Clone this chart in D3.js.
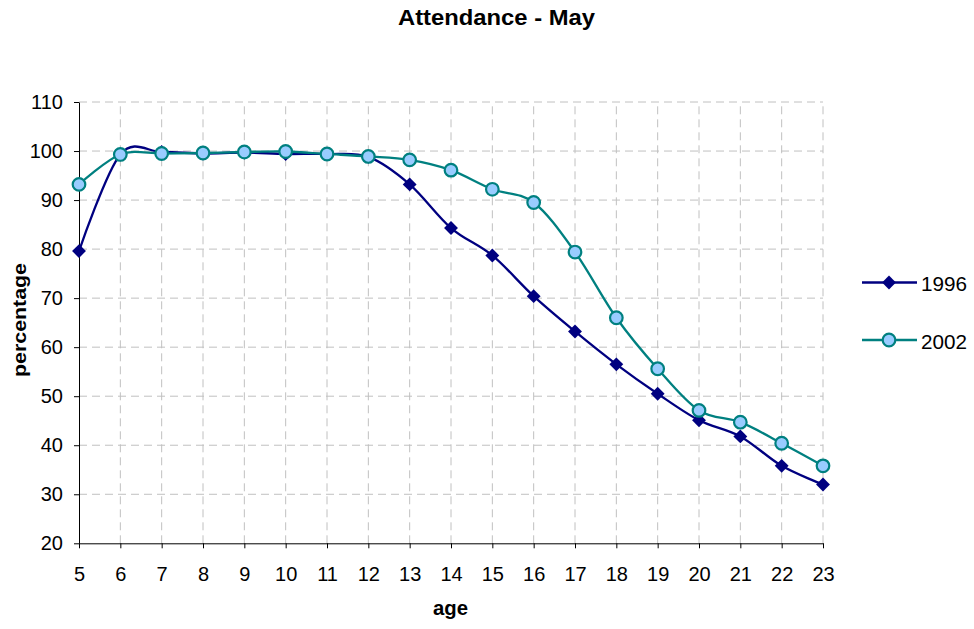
<!DOCTYPE html>
<html><head><meta charset="utf-8">
<script src="https://cdn.jsdelivr.net/npm/d3@7"></script>
<style>body{margin:0;background:#fff}svg{display:block}text{font-family:"Liberation Sans",Arial,sans-serif}</style>
</head><body>
<svg id="c" width="974" height="629"></svg>
<script>
const ages = [5,6,7,8,9,10,11,12,13,14,15,16,17,18,19,20,21,22,23];
const s1996 = [79.6,99.3,99.8,99.5,99.7,99.4,99.4,98.8,93.2,84.3,78.7,70.4,63.2,56.5,50.5,45.1,41.8,35.8,32.0];
const s2002 = [93.2,99.3,99.5,99.6,99.8,99.9,99.4,98.9,98.2,96.1,92.2,89.5,79.4,66.0,55.6,47.1,44.7,40.4,35.8];
const yTicks = [20,30,40,50,60,70,80,90,100,110];
const seriesNames = ["1996","2002"];

const svg = d3.select("#c");
const x = d3.scaleLinear().domain([5,23]).range([79,823]);
const y = d3.scaleLinear().domain([20,110]).range([543.3,102]);
const FONT = "Liberation Sans, Arial, sans-serif";

// grid
const g = svg.append("g");
g.selectAll(".vg").data(ages.slice(1)).enter().append("line")
  .attr("x1",d=>x(d)).attr("x2",d=>x(d)).attr("y1",y(20)).attr("y2",y(110))
  .attr("stroke","#c0c0c0").attr("stroke-width",1).attr("stroke-dasharray","8,5");
g.selectAll(".hg").data(yTicks.slice(1)).enter().append("line")
  .attr("x1",x(5)).attr("x2",x(23)).attr("y1",d=>y(d)).attr("y2",d=>y(d))
  .attr("stroke","#c0c0c0").attr("stroke-width",1).attr("stroke-dasharray","8,5");

// axes
const xAxis = d3.axisBottom(x).tickValues(ages).tickFormat(d3.format("d")).tickSize(5).tickSizeOuter(0).tickPadding(19);
const yAxis = d3.axisLeft(y).tickValues(yTicks).tickSize(5).tickSizeOuter(0).tickPadding(11);
const xa = svg.append("g").attr("transform",`translate(0,${y(20)})`).call(xAxis);
const ya = svg.append("g").attr("transform",`translate(${x(5)},0)`).call(yAxis);
[xa,ya].forEach(a=>{
  a.selectAll("path,line").attr("stroke","#000").attr("stroke-width",1);
  a.selectAll("text").attr("font-size",20).attr("fill","#000").attr("font-family",FONT);
});

// lines
const line = d3.line().x((d,i)=>x(ages[i])).y(d=>y(d)).curve(d3.curveCatmullRom.alpha(0));
svg.append("path").datum(s1996).attr("d",line).attr("fill","none").attr("stroke","#000080").attr("stroke-width",2.3);
svg.append("path").datum(s2002).attr("d",line).attr("fill","none").attr("stroke","#008080").attr("stroke-width",2.3);

const diamondPath = d3.symbol().type(d3.symbolSquare).size(96)();
svg.selectAll(".m1").data(s1996).enter().append("path")
  .attr("d", diamondPath)
  .attr("transform",(d,i)=>`translate(${x(ages[i])},${y(d)}) rotate(45)`)
  .attr("fill","#000080");
svg.selectAll(".m2").data(s2002).enter().append("circle")
  .attr("cx",(d,i)=>x(ages[i])).attr("cy",d=>y(d)).attr("r",6.3)
  .attr("fill","#99ccff").attr("stroke","#008080").attr("stroke-width",2.2);

// legend
const lg = svg.append("g");
const ly = [282.5,340];
lg.selectAll("line").data(seriesNames).enter().append("line")
  .attr("x1",862).attr("x2",917).attr("y1",(d,i)=>ly[i]).attr("y2",(d,i)=>ly[i])
  .attr("stroke",(d,i)=>i?"#008080":"#000080").attr("stroke-width",2.3);
lg.append("path").attr("d", diamondPath)
  .attr("transform",`translate(889,${ly[0]}) rotate(45)`).attr("fill","#000080");
lg.append("circle").attr("cx",889).attr("cy",ly[1]).attr("r",6.3)
  .attr("fill","#99ccff").attr("stroke","#008080").attr("stroke-width",2.2);
lg.selectAll("text").data(seriesNames).enter().append("text")
  .attr("x",921).attr("y",(d,i)=>ly[i]+8.5).attr("font-size",21)
  .attr("textLength",46).attr("lengthAdjust","spacingAndGlyphs").text(d=>d);

// titles
svg.append("text").attr("x",496.5).attr("y",25).attr("text-anchor","middle")
  .attr("font-size",22).attr("font-weight","bold")
  .attr("textLength",197).attr("lengthAdjust","spacingAndGlyphs").text("Attendance - May");
svg.append("text").attr("x",450.5).attr("y",615).attr("text-anchor","middle")
  .attr("font-size",20).attr("font-weight","bold")
  .attr("textLength",35).attr("lengthAdjust","spacingAndGlyphs").text("age");
svg.append("text").attr("transform","translate(26,320) rotate(-90)").attr("text-anchor","middle")
  .attr("font-size",19).attr("font-weight","bold")
  .attr("textLength",114).attr("lengthAdjust","spacingAndGlyphs").text("percentage");
</script>
</body></html>
